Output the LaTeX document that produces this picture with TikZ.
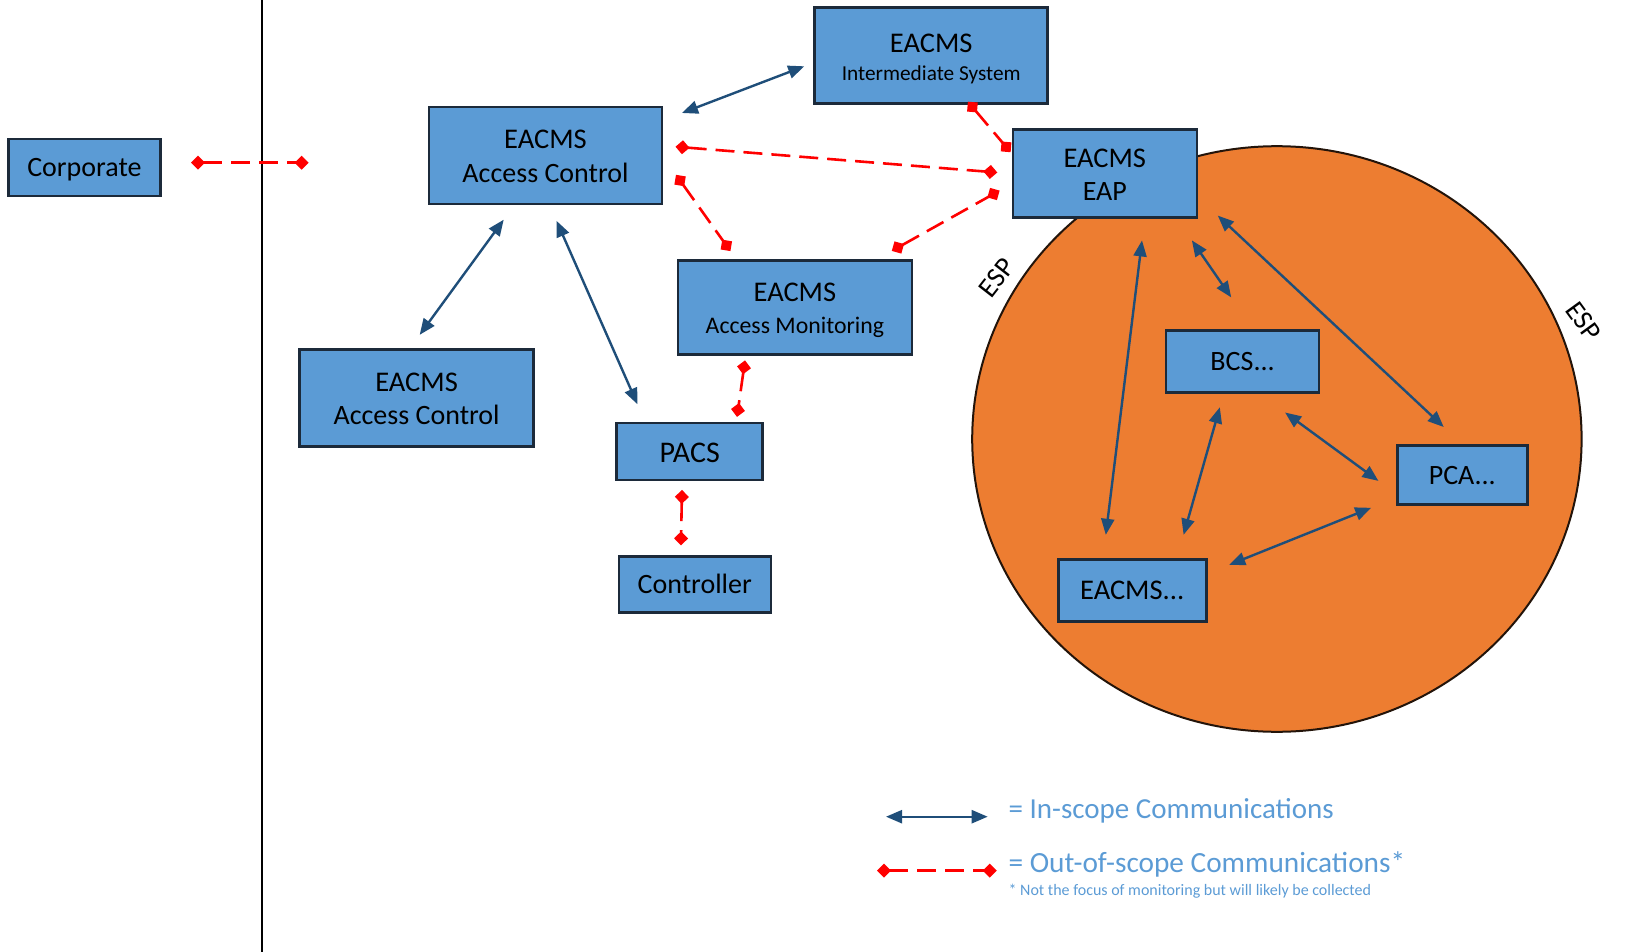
\documentclass[tikz,border=0pt]{standalone}
\usepackage{fontspec}
\setmainfont{Carlito}
\usetikzlibrary{arrows.meta}
\definecolor{boxfill}{RGB}{91,155,213}
\definecolor{boxline}{RGB}{28,42,58}
\definecolor{espfill}{RGB}{237,125,49}
\definecolor{espline}{RGB}{35,20,10}
\definecolor{inblue}{RGB}{31,78,121}
\definecolor{outred}{RGB}{255,0,0}
\definecolor{legtext}{RGB}{91,155,213}
\tikzset{
  sysbox/.style={draw=boxline, fill=boxfill, line width=2.6pt, inner sep=0pt},
  bigtxt/.style={anchor=base, inner sep=0pt, font=\fontsize{28}{33}\selectfont},
  headtxt/.style={anchor=base, inner sep=0pt, font=\fontsize{28.5}{33}\selectfont},
  smalltxt/.style={anchor=base, inner sep=0pt, font=\fontsize{21.3}{25}\selectfont},
  montxt/.style={anchor=base, inner sep=0pt, font=\fontsize{23.8}{28}\selectfont},
  inscope/.style={draw=inblue, line width=2.4pt, {Triangle[length=16pt,width=13pt]}-{Triangle[length=16pt,width=13pt]}},
  outscope/.style={draw=outred, line width=2.6pt, dash pattern=on 19pt off 9pt, {Diamond[length=14pt,width=14pt]}-{Diamond[length=14pt,width=14pt]}},
  esplabel/.style={inner sep=0pt, font=\fontsize{28}{32}\selectfont},
  legtxt/.style={anchor=west, inner sep=0pt, text=legtext}
}
\begin{document}
\begin{tikzpicture}[x=1pt,y=-1pt]
\useasboundingbox (0,0) rectangle (1625,952);
% ESP zone
\draw[fill=espfill, draw=espline, line width=2pt] (1276.9,439) ellipse [x radius=304.7, y radius=292.8];
\node[esplabel, rotate=52] (esp1) at (997,277.8) {ESP};
\node[esplabel, rotate=-54] (esp2) at (1583.6,321.3) {ESP};
% boundary line
\coordinate (vtop) at (262,0);
\coordinate (vbot) at (262,952);
\draw[black, line width=1.8pt] (vtop) -- (vbot);
% boxes
\node[sysbox, minimum width=152, minimum height=57] (corp) at (84.4,167.4) {};
\node[bigtxt] (corpt) at (84.4,177) {Corporate};
\node[sysbox, minimum width=233, minimum height=97] (ac1) at (545.5,155.5) {};
\node[headtxt] (ac1a) at (545.5,149) {EACMS};
\node[bigtxt] (ac1b) at (545.5,183) {Access Control};
\node[sysbox, minimum width=233, minimum height=96] (inter) at (931.2,55.4) {};
\node[headtxt] (intera) at (931.2,53) {EACMS};
\node[smalltxt] (interb) at (931.2,81) {Intermediate System};
\node[sysbox, minimum width=184, minimum height=88] (eap) at (1104.8,173.5) {};
\node[headtxt] (eapa) at (1104.8,167.8) {EACMS};
\node[bigtxt] (eapb) at (1104.8,201) {EAP};
\node[sysbox, minimum width=234, minimum height=94] (mon) at (794.9,307.2) {};
\node[headtxt] (mona) at (794.9,301.7) {EACMS};
\node[montxt] (monb) at (794.9,333.3) {Access Monitoring};
\node[sysbox, minimum width=234, minimum height=97] (ac2) at (416.6,398) {};
\node[headtxt] (ac2a) at (416.6,391.6) {EACMS};
\node[bigtxt] (ac2b) at (416.6,424.8) {Access Control};
\node[sysbox, minimum width=146, minimum height=57] (pacs) at (689.7,451.4) {};
\node[bigtxt, font=\fontsize{30}{34}\selectfont] (pacst) at (689.7,462) {PACS};
\node[sysbox, minimum width=152, minimum height=56] (ctrl) at (694.8,584.5) {};
\node[bigtxt] (ctrlt) at (694.8,593.7) {Controller};
\node[sysbox, minimum width=153, minimum height=62] (bcs) at (1242.6,361.7) {};
\node[bigtxt] (bcst) at (1242.6,370.9) {BCS...};
\node[sysbox, minimum width=130, minimum height=59] (pca) at (1462.3,475.2) {};
\node[bigtxt] (pcat) at (1462.3,484.9) {PCA...};
\node[sysbox, minimum width=148, minimum height=62] (eac3) at (1132.2,590.7) {};
\node[headtxt] (eac3t) at (1132.2,599.9) {EACMS...};
% in-scope endpoints
\coordinate (b1s) at (682,113);      \coordinate (b1e) at (804.2,66.3);
\coordinate (b2s) at (503.7,219.7);  \coordinate (b2e) at (419.7,334.8);
\coordinate (b3s) at (556.5,220.8);  \coordinate (b3e) at (637.4,404.2);
\coordinate (b4s) at (1142,240.4);   \coordinate (b4e) at (1105.8,534.8);
\coordinate (b5s) at (1191.9,240.4); \coordinate (b5e) at (1231.2,297.4);
\coordinate (b6s) at (1217.8,215.6); \coordinate (b6e) at (1443.7,427);
\coordinate (b7s) at (1219.8,407.3); \coordinate (b7e) at (1183.6,534.8);
\coordinate (b8s) at (1285.1,412.5); \coordinate (b8e) at (1378.4,480.9);
\coordinate (b9s) at (1229.2,564.8); \coordinate (b9e) at (1371.2,507.8);
\draw[inscope] (b1s) -- (b1e);
\draw[inscope] (b2s) -- (b2e);
\draw[inscope] (b3s) -- (b3e);
\draw[inscope] (b4s) -- (b4e);
\draw[inscope] (b5s) -- (b5e);
\draw[inscope] (b6s) -- (b6e);
\draw[inscope] (b7s) -- (b7e);
\draw[inscope] (b8s) -- (b8e);
\draw[inscope] (b9s) -- (b9e);
% out-of-scope endpoints
\coordinate (r1s) at (191,162.7);    \coordinate (r1e) at (308.6,162.7);
\coordinate (r2s) at (675.5,146.7);  \coordinate (r2e) at (997.3,172.5);
\coordinate (r3s) at (676,174.8);    \coordinate (r3e) at (730.4,251.1);
\coordinate (r4s) at (891.8,250.9);  \coordinate (r4e) at (999.6,190.6);
\coordinate (r5s) at (967.9,101.7);  \coordinate (r5e) at (1010.6,152.2);
\coordinate (r6s) at (745,360.4);    \coordinate (r6e) at (737,416.9);
\coordinate (r7s) at (682,489.9);    \coordinate (r7e) at (680.9,545.4);
\draw[outscope] (r1s) -- (r1e);
\draw[outscope] (r2s) -- (r2e);
\draw[outscope] (r3s) -- (r3e);
\draw[outscope] (r4s) -- (r4e);
\draw[outscope] (r5s) -- (r5e);
\draw[outscope] (r6s) -- (r6e);
\draw[outscope] (r7s) -- (r7e);
% legend
\coordinate (lb1) at (886,816.7);  \coordinate (lb2) at (987.7,816.7);
\draw[inscope] (lb1) -- (lb2);
\coordinate (lr1) at (877,870.6);  \coordinate (lr2) at (996.8,870.6);
\draw[outscope] (lr1) -- (lr2);
\node[legtxt, font=\fontsize{29}{34}\selectfont] (leg1) at (1008.4,810.5) {= In-scope Communications};
\node[legtxt, font=\fontsize{29.3}{34}\selectfont] (leg2) at (1008.4,864.3) {= Out-of-scope Communications*};
\node[legtxt, font=\fontsize{16}{19}\selectfont] (leg3) at (1008.4,891.3) {* Not the focus of monitoring but will likely be collected};
\end{tikzpicture}
\end{document}
